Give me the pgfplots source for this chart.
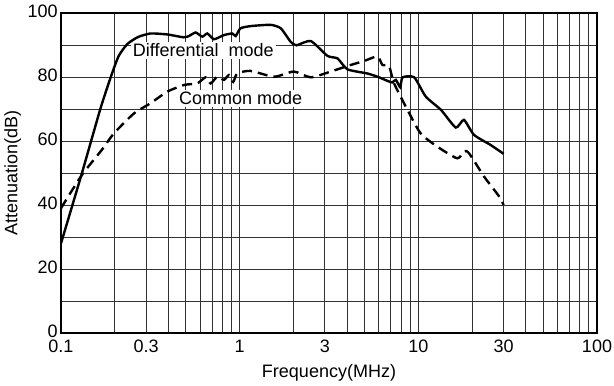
\documentclass[border=0pt]{standalone}
\usepackage{fontspec}
\setmainfont{Liberation Sans}
\usepackage{pgfplots}
\pgfplotsset{compat=1.18}
\begin{document}
\fontsize{9pt}{10.8pt}\selectfont
\begin{tikzpicture}
\path[use as bounding box] (-30.5pt,-26pt) rectangle (276.5pt,166.5pt);
\begin{axis}[
  at={(0,0)}, anchor=south west,
  scale only axis, width=268pt, height=160pt,
  xmode=log, xmin=0.1, xmax=100, ymin=0, ymax=100,
  xtick={0.1,0.3,1,3,10,30,100},
  xticklabels={0.1,0.3,1,3,10,30,100},
  minor xtick={0.2,0.4,0.5,0.6,0.7,0.8,0.9,2,4,5,6,7,8,9,20,40,50,60,70,80,90},
  ytick={0,20,40,60,80,100},
  yticklabels={0,20,40,60,80,100},
  minor ytick={10,30,50,70,90},
  grid=both,
  major grid style={black!80, line width=0.45pt},
  minor grid style={black!80, line width=0.45pt},
  major tick length=0pt, minor tick length=0pt,
  axis line style={black, line width=0.6pt},
  tick label style={font=\fontsize{9pt}{10.8pt}\selectfont},
  xticklabel style={yshift=-0.5pt},
  yticklabel style={xshift=1.5pt, yshift=1pt},
  label style={font=\fontsize{9pt}{10.8pt}\selectfont},
  xlabel={Frequency(MHz)},
  ylabel={Attenuation(dB)},
  xlabel style={yshift=0.5pt},
  ylabel style={yshift=-3pt},
  clip=false,
]
\node[fill=white, inner sep=1pt, anchor=west] at (axis cs:0.245,88.4) {Differential\ \ mode};
\node[fill=white, inner sep=1pt, anchor=west] at (axis cs:0.445,73.4) {Common mode};
\addplot[black, line width=1.2pt, smooth, tension=0.35] coordinates {
(0.1,28.0) (0.131,50.0) (0.166,70.0) (0.19,80.0) (0.21,86.5) (0.235,90.3) (0.27,92.5)
(0.317,93.6) (0.393,93.3) (0.486,92.4) (0.520,92.8) (0.567,93.9) (0.618,92.6)
(0.659,93.6) (0.718,91.8) (0.817,93.1) (0.910,93.6) (0.950,92.8) (1.01,95.2)
(1.15,95.9) (1.49,96.3) (1.70,95.2) (1.93,91.0) (2.08,89.9) (2.50,91.25)
(3.10,86.6) (3.53,85.8) (4.01,82.4) (5.18,81.1) (5.90,80.1) (6.71,78.8)
(7.15,78.3) (7.49,79.1) (7.92,76.8) (8.16,79.9) (9.48,79.9) (11.0,73.9)
(13.4,69.7) (16.2,64.2) (18.0,66.6) (20.5,61.9) (25.4,58.75) (30.0,56.0)
};
\addplot[black, line width=1.2pt, dash pattern=on 5pt off 3pt, smooth, tension=0.4] coordinates {
(0.1,39.0) (0.131,49.4) (0.168,57.0) (0.198,62.4) (0.256,68.6) (0.317,71.8)
(0.393,75.4) (0.488,77.5) (0.579,78.0) (0.645,79.9) (0.688,78.0) (0.75,80.1)
(0.817,79.1) (0.87,80.6) (0.92,78.5) (0.97,81.1) (1.15,81.9) (1.56,80.1)
(2.01,81.7) (2.50,79.9) (3.23,81.7) (4.18,83.75) (4.97,85.0) (5.90,86.4)
(6.30,83.75) (6.85,83.5) (7.32,78.0) (8.70,69.7) (10.3,62.4) (12.8,58.2)
(16.5,54.6) (18.0,56.7) (19.2,56.2) (23.4,48.8) (28.4,42.6) (30.0,40.0)
};
\end{axis}
\end{tikzpicture}
\end{document}
